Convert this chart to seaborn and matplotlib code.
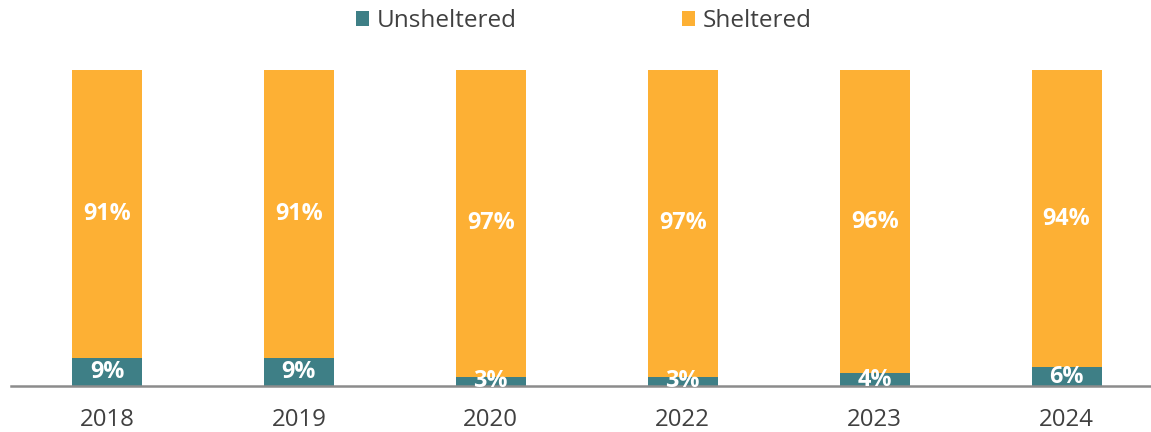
import numpy as np
import pandas as pd
import matplotlib
matplotlib.use("Agg")
import matplotlib.pyplot as plt
from matplotlib.patches import Patch
import seaborn as sns

years = ["2018", "2019", "2020", "2022", "2023", "2024"]
unsheltered = [9, 9, 3, 3, 4, 6]
sheltered = [91, 91, 97, 97, 96, 94]

TEAL = "#3E7F86"
ORANGE = "#FDB034"
TEXT = "#404040"

sns.set_theme(style="white")
plt.rcParams["font.family"] = ["Open Sans", "DejaVu Sans"]

df = pd.DataFrame({"year": years, "unsheltered": unsheltered, "sheltered": sheltered})
df["total"] = df["unsheltered"] + df["sheltered"]

fig = plt.figure(figsize=(11.51, 4.32), dpi=100)
ax = fig.add_axes([11 / 1151, 46 / 432, 1140 / 1151, 316 / 432])

# stacked bars: full total in orange, unsheltered share drawn over the base
sns.barplot(data=df, x="year", y="total", color=ORANGE, width=0.365,
            saturation=1, ax=ax, edgecolor="none")
sns.barplot(data=df, x="year", y="unsheltered", color=TEAL, width=0.365,
            saturation=1, ax=ax, edgecolor="none")

ax.set_xlim(-0.5, 5.44)
ax.set_ylim(0, 100)
ax.set_xlabel("")
ax.set_ylabel("")
ax.set_yticks([])
ax.tick_params(axis="x", length=0, pad=16, labelsize=17.3, labelcolor=TEXT)
for s in ["top", "right", "left"]:
    ax.spines[s].set_visible(False)
ax.spines["bottom"].set_color("#8C8C8C")
ax.spines["bottom"].set_linewidth(1.8)

for i, row in df.iterrows():
    ax.text(i, row["unsheltered"] / 2, f"{row['unsheltered']}%", ha="center",
            va="center", color="white", fontsize=16.8, fontweight="bold")
    ax.text(i, row["unsheltered"] + row["sheltered"] / 2, f"{row['sheltered']}%",
            ha="center", va="center", color="white", fontsize=16.8, fontweight="bold")

handles = [Patch(facecolor=TEAL, edgecolor="none", label="Unsheltered"),
           Patch(facecolor=ORANGE, edgecolor="none", label="Sheltered")]
leg = fig.legend(handles=handles, loc="center", bbox_to_anchor=(0.507, 0.951),
                 ncol=2, frameon=False, fontsize=17.5, handlelength=0.55,
                 handleheight=0.55, handletextpad=0.3, columnspacing=6.8)
for t in leg.get_texts():
    t.set_color(TEXT)

fig.savefig("out.png", dpi=100)
